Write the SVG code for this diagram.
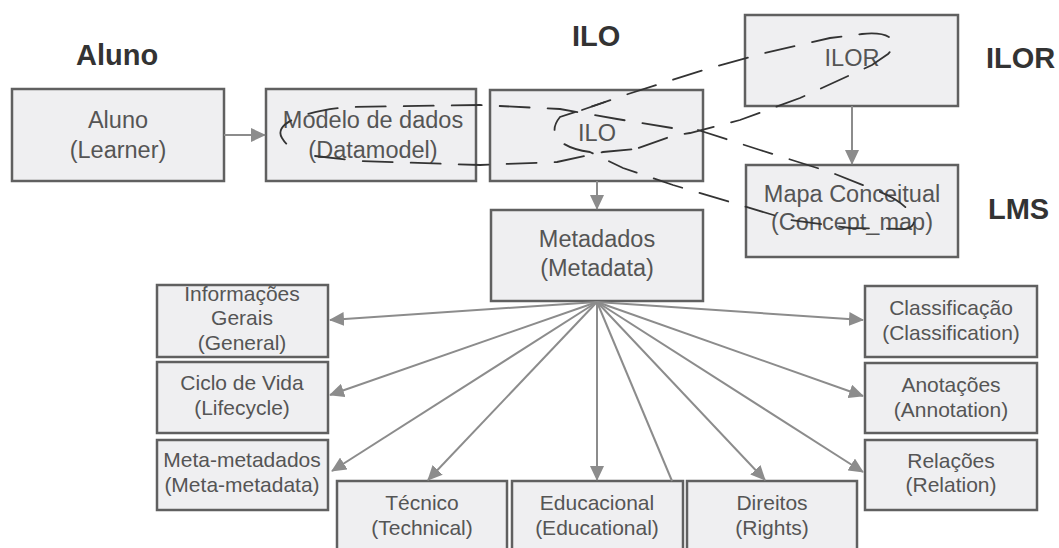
<svg xmlns="http://www.w3.org/2000/svg" width="1059" height="548" viewBox="0 0 1059 548">
  <style>
    .box { fill: #efeff1; stroke: #606060; stroke-width: 2.5; }
    .t { font-family: "Liberation Sans", Arial, sans-serif; fill: #555555; text-anchor: middle; }
    .big { font-size: 23.5px; }
    .sm { font-size: 21px; }
    .hdr { font-family: "Liberation Sans", Arial, sans-serif; font-weight: bold; font-size: 29px; fill: #333; }
    .arr { stroke: #8c8c8c; stroke-width: 2; fill: none; marker-end: url(#ah); }
    .ln { stroke: #8c8c8c; stroke-width: 2; fill: none; }
    .lasso { stroke: #333333; stroke-width: 1.8; fill: none; stroke-dasharray: 30 18; stroke-linecap: round; }
  </style>
  <defs>
    <marker id="ah" markerUnits="userSpaceOnUse" markerWidth="16" markerHeight="14" refX="14" refY="7" orient="auto">
      <path d="M0,0 L15,7 L0,14 z" fill="#8c8c8c"/>
    </marker>
  </defs>

  <rect width="1059" height="548" fill="#ffffff"/>

  <!-- layer headings -->
  <text class="hdr" x="76" y="65">Aluno</text>
  <text class="hdr" x="572" y="46">ILO</text>
  <text class="hdr" x="986" y="68">ILOR</text>
  <text class="hdr" x="988" y="219">LMS</text>

  <g id="aluno">
    <rect class="box" x="12" y="89" width="212" height="92"/>
    <text class="t big" x="118" y="128">Aluno</text>
    <text class="t big" x="118" y="158">(Learner)</text>
  </g>
  <g id="modelo">
    <rect class="box" x="266" y="89" width="210" height="92"/>
    <text class="t big" x="373" y="128">Modelo de dados</text>
    <text class="t big" x="373" y="158">(Datamodel)</text>
  </g>
  <g id="ilo">
    <rect class="box" x="490" y="90" width="213" height="91"/>
    <text class="t big" x="597" y="141">ILO</text>
  </g>
  <g id="ilor">
    <rect class="box" x="745" y="15" width="213" height="91"/>
    <text class="t big" x="852" y="66">ILOR</text>
  </g>
  <g id="mapa">
    <rect class="box" x="746" y="165" width="212" height="92"/>
    <text class="t big" x="852" y="202">Mapa Conceitual</text>
    <text class="t big" x="852" y="230">(Concept_map)</text>
  </g>
  <g id="metadados">
    <rect class="box" x="491" y="210" width="212" height="91"/>
    <text class="t big" x="597" y="247">Metadados</text>
    <text class="t big" x="597" y="276">(Metadata)</text>
  </g>

  <g id="general">
    <rect class="box" x="157" y="285" width="171" height="72"/>
    <text class="t sm" x="242" y="301">Informações</text>
    <text class="t sm" x="242" y="325">Gerais</text>
    <text class="t sm" x="242" y="350">(General)</text>
  </g>
  <g id="lifecycle">
    <rect class="box" x="157" y="362" width="171" height="71"/>
    <text class="t sm" x="242" y="390">Ciclo de Vida</text>
    <text class="t sm" x="242" y="415">(Lifecycle)</text>
  </g>
  <g id="metametadata">
    <rect class="box" x="157" y="440" width="171" height="70"/>
    <text class="t sm" x="242" y="467">Meta-metadados</text>
    <text class="t sm" x="242" y="492">(Meta-metadata)</text>
  </g>
  <g id="technical">
    <rect class="box" x="337" y="481" width="170" height="80"/>
    <text class="t sm" x="422" y="510">Técnico</text>
    <text class="t sm" x="422" y="535">(Technical)</text>
  </g>
  <g id="educational">
    <rect class="box" x="512" y="481" width="171" height="80"/>
    <text class="t sm" x="597" y="510">Educacional</text>
    <text class="t sm" x="597" y="535">(Educational)</text>
  </g>
  <g id="rights">
    <rect class="box" x="687" y="481" width="170" height="80"/>
    <text class="t sm" x="772" y="510">Direitos</text>
    <text class="t sm" x="772" y="535">(Rights)</text>
  </g>
  <g id="classification">
    <rect class="box" x="865" y="286" width="172" height="71"/>
    <text class="t sm" x="951" y="315">Classificação</text>
    <text class="t sm" x="951" y="340">(Classification)</text>
  </g>
  <g id="annotation">
    <rect class="box" x="865" y="363" width="172" height="70"/>
    <text class="t sm" x="951" y="392">Anotações</text>
    <text class="t sm" x="951" y="417">(Annotation)</text>
  </g>
  <g id="relation">
    <rect class="box" x="865" y="440" width="172" height="70"/>
    <text class="t sm" x="951" y="468">Relações</text>
    <text class="t sm" x="951" y="492">(Relation)</text>
  </g>

  <g id="connectors">
    <!-- solid links -->
    <line class="arr" x1="224" y1="135" x2="265" y2="135"/>
    <line class="arr" x1="597" y1="181" x2="597" y2="209"/>
    <line class="arr" x1="852" y1="106" x2="852" y2="164"/>

    <!-- fan from Metadados -->
    <line class="arr" x1="597" y1="302" x2="330" y2="320"/>
    <line class="arr" x1="597" y1="302" x2="330" y2="395"/>
    <line class="arr" x1="597" y1="302" x2="332" y2="471"/>
    <line class="arr" x1="597" y1="302" x2="428" y2="480"/>
    <line class="arr" x1="597" y1="302" x2="597" y2="480"/>
    <line class="ln" x1="597" y1="302" x2="672" y2="481"/>
    <line class="arr" x1="597" y1="302" x2="765" y2="480"/>
    <line class="arr" x1="597" y1="302" x2="863" y2="472"/>
    <line class="arr" x1="597" y1="302" x2="863" y2="396"/>
    <line class="arr" x1="597" y1="302" x2="863" y2="320"/>

    <!-- dashed lassos -->
    <path class="lasso" d="M582,110 L625,95 L710,68 L765,53 L830,38 L862,34 C892,31 900,42 888,54 L872,65 L800,98 L740,120 L690,133 L672,136 L633,150"/>
    <path class="lasso" d="M672,128 L617,119 L560,109 L480,105 L350,107 C310,110 272,122 282,138 C285,143 288,146 292,147 M315,156 L360,161 L480,165 L557,162 L603,152 L636,149"/>
    <path class="lasso" d="M698,130 L760,150 L830,172 L875,190 C910,202 925,226 905,229 L850,228 L790,220 L740,205 L673,185 L623,168 L590,152 C560,148 546,134 560,117 L605,102"/>
  </g>
</svg>
